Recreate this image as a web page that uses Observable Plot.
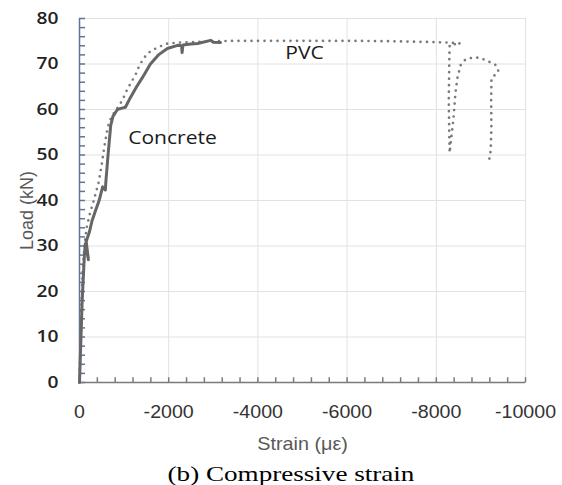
<!DOCTYPE html>
<html><head><meta charset="utf-8">
<script src="https://cdn.jsdelivr.net/npm/d3@7"></script>
<script src="https://cdn.jsdelivr.net/npm/@observablehq/plot@0.6"></script>
<style>
body{margin:0;background:#fff;}
#chart svg{display:block;}
#caption{font-family:"Liberation Serif","Times New Roman",serif;font-size:21px;line-height:25px;text-align:center;margin-left:20px;width:542px;transform:scaleX(1.29);color:#000;}
</style></head><body>
<div id="chart"></div>
<div id="caption">(b) Compressive strain</div>
<script>
// Concrete gauge (solid line)
const concreteStrain = [0, -20, -40, -60, -90, -110, -130, -200, -150, -220, -280, -360, -440, -480, -520, -580, -590, -640, -700, -750, -850, -950, -1030, -1140, -1280, -1410, -1590, -1770, -1970, -2200, -2290, -2300, -2320, -2500, -2650, -2940, -3000, -3160];
const concreteLoad   = [0, 6, 12, 18, 24, 28, 30.5, 27, 31, 33, 35.5, 37.8, 40, 41.5, 43, 42.3, 44, 50, 56.5, 58.5, 60, 60.3, 60.5, 62.6, 65, 67, 70, 72, 73.4, 74.1, 74, 72.5, 74.2, 74.4, 74.5, 75.2, 74.8, 74.7];
// PVC gauge (dotted line)
const pvcStrain = [0, -20, -40, -70, -110, -160, -230, -320, -430, -500, -560, -630, -700, -760, -860, -960, -1050, -1143, -1250, -1323, -1420, -1525, -1640, -1750, -1860, -1973, -2200, -2500, -3000, -3500, -4000, -5000, -6000, -7000, -7500, -8000, -8300, -8540, -8300, -8290, -8280, -8290, -8300, -8340, -8386, -8430, -8475, -8543, -8655, -8812, -8946, -9125, -9327, -9394, -9305, -9237, -9230, -9235, -9220, -9170];
const pvcLoad   = [0, 8, 16, 24, 30, 34, 37, 40, 44, 48, 52, 56, 58, 59, 60.5, 62, 64, 65.7, 67.5, 69.2, 71, 72.3, 73.1, 73.6, 74.1, 74.5, 74.7, 74.8, 75, 75.1, 75.1, 75.1, 75.1, 75, 74.9, 74.8, 74.7, 74.5, 74.2, 70, 62, 55, 50.5, 54, 58.2, 63.7, 67, 69.7, 71, 71.4, 71.4, 70.8, 69.8, 68.4, 67.5, 66.8, 62, 56, 51, 47.9];

const xTicks = [0, -2000, -4000, -6000, -8000, -10000];
const yTicks = [0, 10, 20, 30, 40, 50, 60, 70, 80];
const xMinor = [0, -400, -800, -1200, -1600, -2000, -2400, -2800, -3200, -3600, -4000, -4400, -4800, -5200, -5600, -6000, -6400, -6800, -7200, -7600, -8000, -8400, -8800, -9200, -9600, -10000];
const yMinor = [0, 2, 4, 6, 8, 10, 12, 14, 16, 18, 20, 22, 24, 26, 28, 30, 32, 34, 36, 38, 40, 42, 44, 46, 48, 50, 52, 54, 56, 58, 60, 62, 64, 66, 68, 70, 72, 74, 76, 78, 80];

const labelText = ["Concrete", "PVC"];
const labelStrain = [-2085, -5045];
const labelLoad = [53.6, 72.4];

const xTitle = "Strain (με)";
const yTitle = "Load (kN)";

const concrete = concreteStrain.map((s, i) => ({strain: s, load: concreteLoad[i]}));
const pvc = pvcStrain.map((s, i) => ({strain: s, load: pvcLoad[i]}));
const annots = labelText.map((t, i) => ({text: t, strain: labelStrain[i], load: labelLoad[i]}));

const chart = Plot.plot({
  width: 562, height: 462,
  marginLeft: 79, marginRight: 37, marginTop: 18, marginBottom: 80,
  x: {domain: [0, -10000]},
  y: {domain: [0, 80]},
  style: {fontFamily: "'Liberation Sans', Arial, sans-serif", background: "white", overflow: "visible"},
  marks: [
    Plot.gridX(xTicks.slice(1), {stroke: "#e2e2e2", strokeOpacity: 1}),
    Plot.gridY(yTicks.slice(1), {stroke: "#e2e2e2", strokeOpacity: 1}),
    Plot.link(xMinor, {x1: d => d, x2: d => d, y1: () => 0, y2: () => 1.15, stroke: "#7a7a7a", strokeWidth: 1.5}),
    Plot.ruleY(yMinor, {x1: 0, x2: -135, stroke: "#5f7497", strokeWidth: 1.5}),
    Plot.ruleY([0], {stroke: "#7a7a7a", strokeWidth: 1.5}),
    Plot.ruleX([0], {stroke: "#5f7497", strokeWidth: 1.5}),
    Plot.line(pvc, {x: "strain", y: "load", stroke: "#7a7a7a", strokeWidth: 2.7, strokeDasharray: "0 6.5", strokeLinecap: "round", strokeLinejoin: "round"}),
    Plot.line(concrete, {x: "strain", y: "load", stroke: "#666666", strokeWidth: 3, strokeLinejoin: "round"}),
    Plot.axisX(xTicks, {tickSize: 0, tickPadding: 23, fontSize: 18, fill: "#333", label: null, tickFormat: d => String(d)}),
    Plot.axisY(yTicks, {tickSize: 0, tickPadding: 21, fontSize: 16, fontWeight: 600, fontFamily: "'Open Sans', sans-serif", fill: "#222", label: null}),
    Plot.text(annots, {x: "strain", y: "load", text: "text", fontSize: 18, fontFamily: "'Open Sans', sans-serif", fill: "#1a1a1a"}),
    Plot.text([xTitle], {frameAnchor: "bottom", lineAnchor: "middle", textAnchor: "middle", dy: 62, fontSize: 18, fill: "#595959"}),
    Plot.text([yTitle], {frameAnchor: "left", textAnchor: "middle", lineAnchor: "middle", rotate: -90, dx: -52, dy: 10, fontSize: 18, fill: "#595959"})
  ]
});
document.getElementById("chart").appendChild(chart);

function stretchText(t, s) {
  const bb = t.getBBox();
  const anchor = getComputedStyle(t).textAnchor;
  let tr = t.getAttribute("transform") || "";
  if (tr.includes("rotate")) return;
  const ax = anchor === "end" ? bb.x + bb.width : anchor === "start" ? bb.x : bb.x + bb.width / 2;
  tr += ` translate(${ax},0) scale(${s},1) translate(${-ax},0)`;
  t.setAttribute("transform", tr);
}
chart.querySelectorAll('g[aria-label="y-axis tick label"] text').forEach(t => stretchText(t, 1.2));
chart.querySelectorAll('g[aria-label="x-axis tick label"] text').forEach(t => stretchText(t, 1.09));
chart.querySelectorAll('g[aria-label="text"] text').forEach(t => {
  const s = labelText.includes(t.textContent) ? 1.17 : 1.1;
  stretchText(t, s);
});
</script>
</body></html>
